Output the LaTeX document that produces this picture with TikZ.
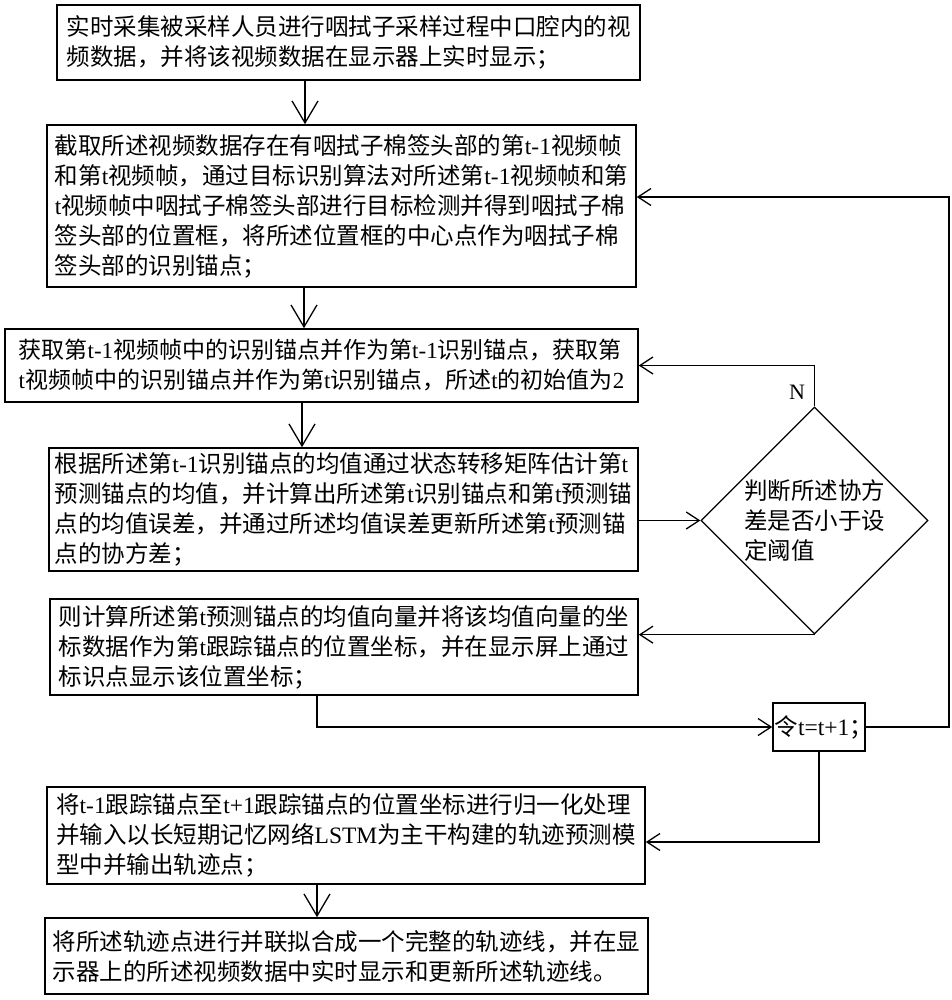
\documentclass[tikz,border=0pt]{standalone}
\usepackage{fontspec}
\setmainfont{Noto Sans CJK SC}
\newfontfamily\tnr{Liberation Serif}
\newcommand{\ltn}[1]{{\tnr #1}}
\usetikzlibrary{arrows.meta}
\usetikzlibrary{shapes.geometric}

\begin{document}
\begin{tikzpicture}[x=1pt,y=-1pt,
    stepbox/.style={draw,line width=1.6,align=left,inner sep=1pt,font=\fontsize{23.5}{30}\selectfont},
    varr/.style={arrows={-Straight Barb[length=22pt,width=26pt]},line width=1.3},
    harr/.style={arrows={-Straight Barb[length=13pt,width=17pt]},line width=1.3}]
    \useasboundingbox (0,0) rectangle (951,1000);

    \node [stepbox,minimum width=583,minimum height=75] (box1) at (348.5,42.5)
        {实时采集被采样人员进行咽拭子采样过程中口腔内的视\\频数据，并将该视频数据在显示器上实时显示；};
    \node [stepbox,minimum width=589,minimum height=162] (box2) at (341.5,206)
        {截取所述视频数据存在有咽拭子棉签头部的第\ltn{t-1}视频帧\\
         和第\ltn{t}视频帧，通过目标识别算法对所述第\ltn{t-1}视频帧和第\\
         \ltn{t}视频帧中咽拭子棉签头部进行目标检测并得到咽拭子棉\\
         签头部的位置框，将所述位置框的中心点作为咽拭子棉\\
         签头部的识别锚点；};
    \node [stepbox,minimum width=633,minimum height=73,font=\fontsize{23}{30}\selectfont] (box3) at (321.5,365.5)
        {获取第\ltn{t-1}视频帧中的识别锚点并作为第\ltn{t-1}识别锚点，获取第\\
         \ltn{t}视频帧中的识别锚点并作为第\ltn{t}识别锚点，所述\ltn{t}的初始值为\ltn{2}};
    \node [stepbox,minimum width=589,minimum height=123] (box4) at (343.5,509.5)
        {根据所述第\ltn{t-1}识别锚点的均值通过状态转移矩阵估计第\ltn{t}\\
         预测锚点的均值，并计算出所述第\ltn{t}识别锚点和第\ltn{t}预测锚\\
         点的均值误差，并通过所述均值误差更新所述第\ltn{t}预测锚\\
         点的协方差；};
    \node [stepbox,minimum width=588,minimum height=96] (box5) at (344,647)
        {则计算所述第\ltn{t}预测锚点的均值向量并将该均值向量的坐\\
         标数据作为第\ltn{t}跟踪锚点的位置坐标，并在显示屏上通过\\
         标识点显示该位置坐标；};
    \node [draw,diamond,aspect=1,line width=1.3,inner sep=0pt,minimum width=227,minimum height=227,
           align=left,font=\fontsize{23.5}{30}\selectfont] (dec) at (814.5,520.5)
        {判断所述协方\\差是否小于设\\定阈值};
    \node [font=\tnr\fontsize{22}{24}\selectfont] (nlab) at (797,392) {N};
    \node [stepbox,minimum width=92,minimum height=48] (tbox) at (819,727)
        {令\ltn{t=t+1}\makebox[0.6em][l]{；}};
    \node [stepbox,minimum width=598,minimum height=97] (box6) at (346,835.5)
        {将\ltn{t-1}跟踪锚点至\ltn{t+1}跟踪锚点的位置坐标进行归一化处理\\
         并输入以长短期记忆网络\ltn{LSTM}为主干构建的轨迹预测模\\
         型中并输出轨迹点；};
    \node [stepbox,minimum width=603,minimum height=76] (box7) at (346.5,956)
        {将所述轨迹点进行并联拟合成一个完整的轨迹线，并在显\\
         示器上的所述视频数据中实时显示和更新所述轨迹线。};

    % columns of the down arrows and the turn points
    \coordinate (x1) at (305,0);
    \coordinate (x2) at (304,0);
    \coordinate (x3) at (302,0);
    \coordinate (x4) at (317,0);
    \coordinate (xr) at (949,0);
    \coordinate (r2) at ([yshift=9pt]box2.east);
    \coordinate (r6) at ([yshift=-6.5pt]box6.east);

    \draw [varr] (box1.south -| x1) -- (box2.north -| x1);
    \draw [varr] (box2.south -| x2) -- (box3.north -| x2);
    \draw [varr] (box3.south -| x3) -- (box4.north -| x3);
    \draw [harr] (box4.east |- dec.west) -- (dec.west);
    \draw [harr] (dec.north) |- (box3.east);
    \draw [harr] (dec.south) -- (dec.south -| box5.east);
    \draw [harr] (box5.south -| x4) |- (tbox.west);
    \draw [harr] (tbox.east) -| (xr |- r2) -- (r2);
    \draw [harr] (tbox.south) |- (r6);
    \draw [varr] (box6.south -| x4) -- (box7.north -| x4);

\end{tikzpicture}
\end{document}
